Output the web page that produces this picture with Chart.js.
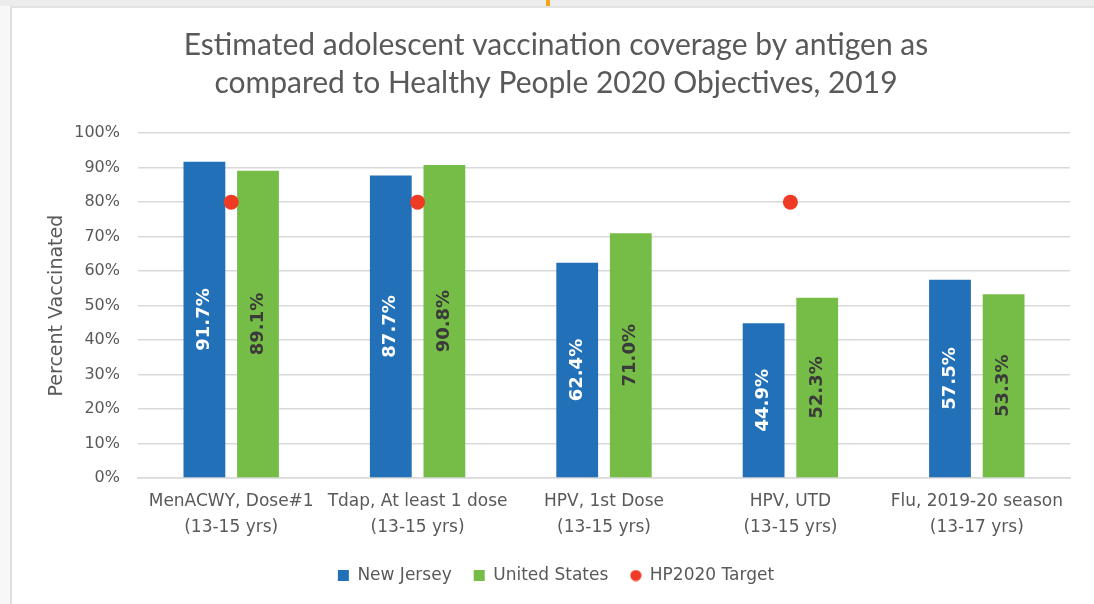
<!DOCTYPE html>
<html>
<head>
<meta charset="utf-8">
<script src="https://cdn.jsdelivr.net/npm/chart.js@4.4.1/dist/chart.umd.min.js"></script>
<style>
  html, body { margin: 0; padding: 0; width: 1094px; height: 604px; overflow: hidden; background: #f7f7f7; }
  .topbar { position: absolute; left: 0; top: 0; width: 1094px; height: 6px; background: #ececec; }
  .marker { position: absolute; left: 546px; top: 0; width: 4px; height: 6px; background: #f2a516; }
  .card { position: absolute; left: 10px; top: 6px; width: 1084px; height: 598px; background: #fff;
          border-left: 2px solid #dddddd; border-top: 2px solid #e2e2e2; box-sizing: border-box; }
  #chart { display: block; }
</style>
</head>
<body>
<div class="topbar"></div>
<div class="marker"></div>
<div class="card"><canvas id="chart" width="1082" height="596"></canvas></div>
<script>
// ── データ ────────────────────────────────────────────
const categories = [
  ['MenACWY, Dose#1', '(13-15 yrs)'],
  ['Tdap, At least 1 dose', '(13-15 yrs)'],
  ['HPV, 1st Dose', '(13-15 yrs)'],
  ['HPV, UTD', '(13-15 yrs)'],
  ['Flu, 2019-20 season', '(13-17 yrs)']
];
const newJersey    = [91.7, 87.7, 62.4, 44.9, 57.5];
const unitedStates = [89.1, 90.8, 71.0, 52.3, 53.3];
const hp2020Target = [80, 80, null, 80, null];
const yTicks = [0, 10, 20, 30, 40, 50, 60, 70, 80, 90, 100];

const BLUE = '#2270b8';
const GREEN = '#76bd47';
const RED = '#ef3b26';
const GREY = '#595959';

// 凡例用の小さい赤丸
const dot = document.createElement('canvas');
dot.width = 12; dot.height = 12;
const dctx = dot.getContext('2d');
dctx.fillStyle = RED;
dctx.beginPath(); dctx.arc(6, 6, 5.6, 0, Math.PI * 2); dctx.fill();

// バー内の縦向きラベル
const barLabels = {
  id: 'barLabels',
  afterDatasetsDraw(chart) {
    const ctx = chart.ctx;
    [0, 1].forEach(di => {
      const meta = chart.getDatasetMeta(di);
      const ds = chart.data.datasets[di];
      meta.data.forEach((bar, i) => {
        const v = ds.data[i];
        if (v == null) return;
        ctx.save();
        ctx.translate(bar.x, (bar.y + bar.base) / 2);
        ctx.rotate(-Math.PI / 2);
        ctx.font = 'bold 18px "DejaVu Sans"';
        ctx.fillStyle = di === 0 ? '#ffffff' : '#3a3a3a';
        ctx.textAlign = 'center';
        ctx.textBaseline = 'middle';
        ctx.fillText(v.toFixed(1) + '%', 0, 0);
        ctx.restore();
      });
    });
  }
};

new Chart(document.getElementById('chart'), {
  type: 'bar',
  data: {
    labels: categories,
    datasets: [
      {
        label: 'New Jersey',
        data: newJersey,
        backgroundColor: BLUE,
        pointStyle: 'rect',
        categoryPercentage: 0.575,
        barPercentage: 0.78,
        order: 2
      },
      {
        label: 'United States',
        data: unitedStates,
        backgroundColor: GREEN,
        pointStyle: 'rect',
        categoryPercentage: 0.575,
        barPercentage: 0.78,
        order: 2
      },
      {
        label: 'HP2020 Target',
        data: hp2020Target,
        type: 'line',
        showLine: false,
        pointStyle: 'circle',
        pointRadius: 7.5,
        pointHoverRadius: 7.5,
        backgroundColor: RED,
        borderColor: RED,
        borderWidth: 0,
        order: 1
      }
    ]
  },
  options: {
    responsive: false,
    animation: false,
    devicePixelRatio: 1,
    layout: { padding: { left: 30, right: 24, top: 0, bottom: 10 } },
    plugins: {
      title: {
        display: true,
        text: ['Estimated adolescent vaccination coverage by antigen as',
               'compared to Healthy People 2020 Objectives, 2019'],
        color: GREY,
        font: { family: 'Lato', size: 30, weight: 'normal', lineHeight: 1.27 },
        padding: { top: 18, bottom: 31 }
      },
      legend: {
        position: 'bottom',
        labels: {
          usePointStyle: true,
          boxWidth: 11,
          boxHeight: 11,
          color: GREY,
          font: { family: 'DejaVu Sans', size: 17 },
          padding: 22,
          sort: (a, b) => a.datasetIndex - b.datasetIndex,
          generateLabels: chart => {
            const items = Chart.defaults.plugins.legend.labels.generateLabels(chart);
            items.forEach(it => { if (it.datasetIndex === 2) it.pointStyle = dot; });
            return items;
          }
        }
      },
      tooltip: { enabled: false }
    },
    scales: {
      x: {
        afterFit: s => { s.height = 67; },
        grid: { display: false, drawTicks: false },
        border: { color: '#d9d9d9', width: 1.5 },
        ticks: {
          color: GREY,
          font: { family: 'DejaVu Sans', size: 17, lineHeight: 1.53 },
          padding: 11,
          maxRotation: 0,
          autoSkip: false
        }
      },
      y: {
        min: 0,
        max: 100,
        afterFit: s => { s.width = 96; },
        afterBuildTicks: s => { s.ticks = yTicks.map(v => ({ value: v })); },
        grid: { color: '#d9d9d9', lineWidth: 1.5, drawTicks: false },
        border: { display: false },
        ticks: {
          color: GREY,
          font: { family: 'DejaVu Sans', size: 16 },
          padding: 18,
          callback: v => v + '%'
        },
        title: {
          display: true,
          text: 'Percent Vaccinated',
          color: GREY,
          font: { family: 'DejaVu Sans', size: 19 },
          padding: 4
        }
      }
    }
  },
  plugins: [barLabels]
});
</script>
</body>
</html>
